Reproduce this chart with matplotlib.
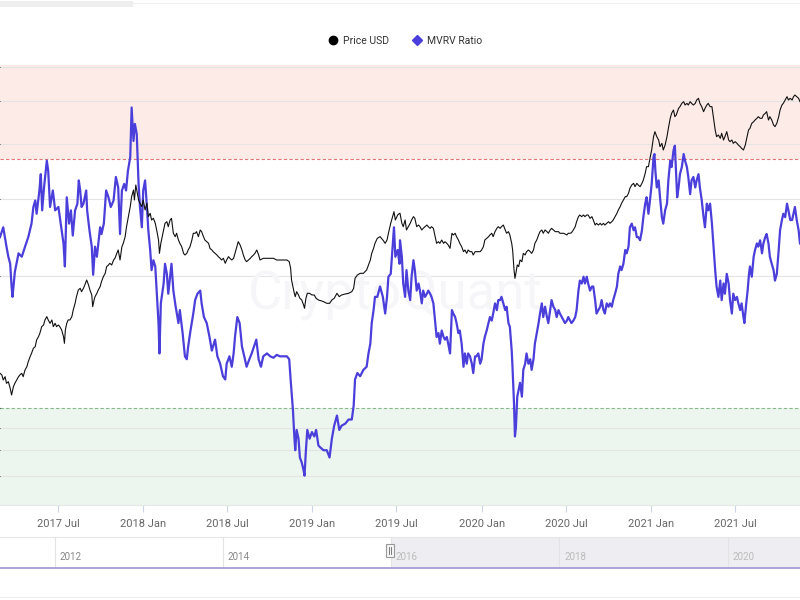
import matplotlib
matplotlib.use("Agg")
import matplotlib.pyplot as plt
from matplotlib.lines import Line2D
from matplotlib.patches import Rectangle
import pandas as pd

plt.rcParams['font.family'] = ['Roboto', 'DejaVu Sans']

# days counted from 2017-02-26 (left edge of the visible window)
start = pd.Timestamp('2017-02-26')
end_day = 1726

mvrv_day = [
    0, 7, 14, 18, 22, 25, 27, 32, 40, 47,
    54, 61, 68, 72, 76, 79, 85, 88, 91, 95,
    101, 104, 108, 114, 119, 126, 129, 133, 137, 140,
    144, 149, 153, 157, 162, 167, 170, 173, 176, 180,
    186, 188, 193, 198, 201, 205, 209, 216, 219, 224,
    229, 234, 239, 245, 250, 255, 259, 263, 268, 272,
    276, 281, 284, 288, 291, 295, 299, 302, 306, 309,
    313, 317, 320, 324, 327, 331, 335, 338, 342, 344,
    347, 353, 356, 360, 363, 367, 370, 374, 379, 385,
    388, 394, 399, 403, 406, 411, 417, 421, 426, 432,
    435, 440, 446, 452, 457, 464, 469, 475, 481, 486,
    489, 495, 500, 504, 507, 512, 517, 522, 527, 532,
    538, 543, 548, 553, 558, 563, 568, 576, 583, 590,
    597, 604, 611, 619, 624, 627, 632, 635, 637, 640,
    644, 647, 651, 655, 657, 660, 663, 668, 673, 678,
    682, 687, 692, 698, 705, 711, 716, 721, 727, 732,
    737, 745, 752, 759, 763, 766, 771, 777, 784, 791,
    795, 799, 802, 806, 809, 814, 820, 826, 831, 835,
    838, 843, 847, 850, 853, 858, 862,
    863, 867, 870, 874, 877, 881, 885, 888, 892, 895,
    899, 903, 906, 910, 913, 917, 921, 924, 928, 931,
    935, 939, 942, 946, 949, 953, 957, 960, 964, 967,
    971, 975, 978, 982, 985, 989, 992, 996, 1000, 1003,
    1007, 1010, 1014, 1018, 1021, 1025, 1028, 1032, 1036, 1039,
    1043, 1046, 1050, 1054, 1057, 1061, 1064, 1068, 1072, 1075,
    1079, 1082, 1086, 1090, 1093, 1097, 1100, 1104, 1106, 1109,
    1111, 1113, 1116, 1119, 1122, 1126, 1129, 1133, 1136, 1140,
    1144, 1147, 1151, 1154, 1158, 1162, 1165, 1169, 1172, 1176,
    1180, 1183, 1187, 1190, 1194, 1198, 1201, 1205, 1208, 1212,
    1216, 1219, 1223, 1226, 1230, 1233, 1237, 1241, 1244, 1248,
    1251, 1255, 1259, 1262, 1266, 1269, 1273, 1277, 1280, 1284,
    1287, 1291, 1295, 1298, 1302, 1305, 1309, 1313, 1316, 1320,
    1323, 1327, 1331, 1334, 1338, 1341, 1345, 1349, 1352, 1356,
    1359, 1363, 1367, 1370, 1374, 1377, 1381, 1385, 1388, 1392,
    1395, 1399, 1403, 1406, 1410, 1412, 1414, 1417, 1421, 1424,
    1428, 1431, 1435, 1439, 1442, 1446, 1449, 1453, 1456, 1459,
    1461, 1464, 1467, 1471, 1475, 1478, 1482, 1485, 1489, 1492,
    1496, 1500, 1503, 1507, 1510, 1514, 1518, 1521, 1525, 1528,
    1532, 1536, 1539, 1543, 1546, 1550, 1554, 1557, 1561, 1564,
    1568, 1572, 1575, 1579, 1582, 1586, 1590, 1593, 1597, 1600,
    1604, 1606, 1610, 1613, 1616, 1618, 1622, 1626, 1629, 1633,
    1636, 1640, 1644, 1647, 1651, 1654, 1658, 1661, 1665, 1669,
    1672, 1676, 1680, 1683, 1687, 1690, 1694, 1698, 1701, 1705,
    1709, 1712, 1715, 1719, 1723, 1726,
]
mvrv = [
    2.45, 2.58, 2.33, 2.21, 2.13, 1.89, 1.79, 2.04, 2.25, 2.21,
    2.33, 2.45, 2.63, 2.87, 2.97, 2.77, 3.13, 3.41, 2.82, 3.18,
    3.66, 3.47, 2.87, 3.13, 2.82, 2.87, 2.72, 2.54, 2.37, 2.10,
    3.02, 2.63, 2.82, 2.47, 2.82, 2.92, 3.30, 3.13, 2.87, 2.92,
    3.13, 2.82, 2.54, 2.33, 2.01, 2.33, 2.21, 2.58, 2.49, 2.63,
    3.13, 3.02, 2.87, 2.97, 3.36, 3.18, 2.49, 3.13, 3.24, 3.13,
    3.47, 3.73, 4.84, 4.06, 4.44, 4.21, 3.24, 2.87, 2.58, 3.13,
    3.30, 2.87, 2.54, 2.29, 2.06, 2.17, 2.10, 1.85, 1.56, 1.33,
    1.73, 1.92, 2.13, 2.02, 1.82, 1.99, 2.13, 1.85, 1.70, 1.56,
    1.67, 1.48, 1.31, 1.29, 1.38, 1.50, 1.64, 1.76, 1.82, 1.85,
    1.73, 1.61, 1.56, 1.45, 1.35, 1.43, 1.31, 1.26, 1.18, 1.16,
    1.26, 1.31, 1.24, 1.33, 1.45, 1.61, 1.56, 1.38, 1.31, 1.24,
    1.29, 1.33, 1.38, 1.43, 1.29, 1.24, 1.31, 1.33, 1.31, 1.30,
    1.32, 1.31, 1.31, 1.31, 1.29, 1.16, 0.99, 0.86, 0.80, 0.89,
    0.85, 0.77, 0.75, 0.72, 0.70, 0.80, 0.89, 0.85, 0.88, 0.86,
    0.89, 0.82, 0.81, 0.80, 0.80, 0.77, 0.85, 0.91, 0.96, 0.89,
    0.91, 0.92, 0.94, 0.94, 1.01, 1.16, 1.20, 1.18, 1.22, 1.24,
    1.33, 1.40, 1.56, 1.67, 1.79, 1.79, 1.89, 1.79, 1.64, 1.79,
    1.99, 2.02, 2.33, 2.58, 2.21, 2.29, 2.13,
    2.41, 2.21, 1.92, 1.79, 2.06, 1.85, 1.76, 1.99, 2.17, 2.06,
    1.85, 1.92, 1.85, 1.73, 1.85, 1.79, 1.82, 1.85, 1.82, 1.79,
    1.73, 1.56, 1.45, 1.48, 1.40, 1.50, 1.45, 1.43, 1.45, 1.40,
    1.33, 1.67, 1.64, 1.61, 1.56, 1.48, 1.50, 1.40, 1.24, 1.33,
    1.26, 1.33, 1.31, 1.26, 1.20, 1.31, 1.31, 1.33, 1.26, 1.29,
    1.40, 1.45, 1.50, 1.56, 1.61, 1.58, 1.64, 1.73, 1.67, 1.76,
    1.76, 1.79, 1.73, 1.67, 1.70, 1.56, 1.53, 1.35, 1.22, 1.02,
    0.86, 0.90, 1.06, 1.10, 1.14, 1.06, 1.22, 1.26, 1.33, 1.26,
    1.29, 1.22, 1.29, 1.40, 1.48, 1.56, 1.64, 1.73, 1.61, 1.70,
    1.61, 1.56, 1.67, 1.76, 1.70, 1.67, 1.61, 1.67, 1.64, 1.61,
    1.58, 1.56, 1.58, 1.61, 1.58, 1.56, 1.58, 1.61, 1.67, 1.85,
    1.95, 1.92, 1.99, 1.92, 1.99, 1.92, 1.85, 1.89, 1.89, 1.76,
    1.64, 1.67, 1.70, 1.76, 1.67, 1.64, 1.73, 1.70, 1.73, 1.70,
    1.76, 1.82, 1.89, 2.02, 2.10, 2.06, 2.13, 2.29, 2.25, 2.33,
    2.58, 2.63, 2.54, 2.58, 2.45, 2.45, 2.41, 2.54, 2.72, 2.92,
    3.02, 2.77, 3.02, 3.24, 3.73, 3.79, 3.47, 3.18, 3.30, 3.02,
    2.72, 2.63, 2.82, 2.92, 3.30, 3.66, 3.54, 3.86, 3.96, 3.36,
    3.02, 3.18, 3.41, 3.54, 3.79, 3.66, 3.54, 3.36, 3.07, 3.30,
    3.36, 3.18, 3.30, 3.41, 3.18, 2.97, 2.72, 2.58, 2.92, 2.82,
    2.92, 2.63, 2.37, 2.06, 1.89, 1.79, 1.95, 1.76, 1.92, 1.82,
    2.02, 1.92, 1.76, 1.64, 1.82, 1.76, 1.79, 1.73, 1.67, 1.73,
    1.61, 1.56, 1.73, 1.85, 2.02, 2.10, 1.99, 2.21, 2.29, 2.37,
    2.33, 2.41, 2.25, 2.37, 2.45, 2.49, 2.37, 2.21, 2.13, 2.06,
    1.95, 2.02, 2.29, 2.54, 2.68, 2.77, 2.72, 2.92, 2.82, 2.68,
    2.68, 2.77, 2.87, 2.68, 2.54, 2.37,
]

price_day = [
    0, 4, 7, 11, 14, 18, 22, 25, 29, 32,
    36, 40, 43, 47, 50, 54, 58, 61, 65, 68,
    72, 76, 79, 83, 86, 90, 94, 97, 101, 104,
    108, 112, 115, 119, 122, 126, 129, 133, 137, 139,
    141, 144, 147, 151, 155, 158, 162, 165, 169, 173,
    176, 180, 183, 187, 191, 194, 198, 200, 203, 205,
    209, 212, 216, 219, 223, 227, 230, 234, 237, 241,
    245, 248, 252, 255, 259, 263, 266, 270, 273, 277,
    281, 284, 288, 290, 293, 295, 299, 302, 306, 309,
    313, 317, 320, 324, 327, 331, 335, 338, 342, 344,
    347, 350, 353, 356, 360, 363, 367, 370, 374, 378,
    381, 385, 388, 392, 396, 399, 403, 406, 410, 414,
    417, 421, 424, 428, 432, 435, 439, 442, 446, 450,
    453, 457, 460, 464, 468, 471, 475, 478, 482, 486,
    489, 493, 496, 500, 504, 507, 511, 514, 518, 522,
    525, 529, 532, 536, 540, 543, 547, 550, 554, 558,
    561, 568, 576, 583, 590, 597, 604, 611, 619, 624,
    627, 629, 632, 635, 637, 640, 644, 647, 651, 655,
    657, 660, 663, 668, 673, 678, 682, 687, 692, 698,
    705, 711, 716, 721, 727, 732, 737, 745, 752, 759,
    763, 766, 771, 777, 784, 791, 795, 799, 802, 806,
    809, 814, 820, 826, 831, 835, 838, 843, 847, 850,
    853, 858, 862,
    863, 867, 870, 874, 877, 881, 885, 888, 892, 895,
    899, 903, 906, 910, 913, 917, 921, 924, 928, 931,
    935, 939, 942, 946, 949, 953, 957, 960, 964, 967,
    971, 975, 978, 982, 985, 989, 992, 996, 1000, 1003,
    1007, 1010, 1014, 1018, 1021, 1025, 1028, 1032, 1036, 1039,
    1043, 1046, 1050, 1054, 1057, 1061, 1064, 1068, 1072, 1075,
    1079, 1082, 1086, 1090, 1093, 1097, 1100, 1104, 1106, 1109,
    1111, 1113, 1116, 1119, 1122, 1126, 1129, 1133, 1136, 1140,
    1144, 1147, 1151, 1154, 1158, 1162, 1165, 1169, 1172, 1176,
    1180, 1183, 1187, 1190, 1194, 1198, 1201, 1205, 1208, 1212,
    1216, 1219, 1223, 1226, 1230, 1233, 1237, 1241, 1244, 1248,
    1251, 1255, 1259, 1262, 1266, 1269, 1273, 1277, 1280, 1284,
    1287, 1291, 1295, 1298, 1302, 1305, 1309, 1313, 1316, 1320,
    1323, 1327, 1331, 1334, 1338, 1341, 1345, 1349, 1352, 1356,
    1359, 1363, 1367, 1370, 1374, 1377, 1381, 1385, 1388, 1392,
    1395, 1399, 1403, 1406, 1410, 1413, 1417, 1421, 1424, 1428,
    1431, 1435, 1439, 1442, 1446, 1449, 1453, 1456, 1459, 1464,
    1467, 1471, 1475, 1478, 1482, 1485, 1489, 1492, 1496, 1500,
    1503, 1507, 1510, 1514, 1518, 1521, 1525, 1528, 1532, 1536,
    1539, 1543, 1546, 1550, 1554, 1557, 1561, 1564, 1568, 1572,
    1575, 1579, 1582, 1586, 1590, 1593, 1597, 1600, 1604, 1608,
    1611, 1615, 1618, 1622, 1626, 1629, 1633, 1636, 1640, 1644,
    1647, 1651, 1654, 1658, 1661, 1665, 1669, 1672, 1676, 1680,
    1683, 1687, 1690, 1694, 1698, 1701, 1705, 1709, 1712, 1715,
    1719, 1723, 1726,
]
price = [
    1250, 1221, 1136, 1191, 1083, 1109, 1008, 917, 1033, 1083,
    1136, 1191, 1221, 1250, 1191, 1311, 1375, 1477, 1586, 1663,
    1787, 1830, 2013, 2111, 2215, 2436, 2495, 2681, 2811, 2681,
    2555, 2681, 2436, 2555, 2436, 2495, 2436, 2323, 2111, 1919,
    2323, 2555, 2681, 2681, 2811, 3092, 3401, 3741, 4115, 4215,
    4018, 4215, 4421, 4748, 4421, 4115, 3831, 3243, 3566, 3741,
    3923, 4115, 4316, 4637, 4981, 5222, 5744, 5885, 6026, 5885,
    6319, 6473, 6953, 7294, 6319, 7649, 8022, 8824, 10180, 11746,
    13552, 15636, 17196, 14906, 18475, 17196, 14906, 14212, 13552, 14906,
    12922, 14212, 11746, 12320, 11200, 11469, 10678, 9707, 8414, 6953,
    8022, 8824, 9707, 10678, 10934, 10180, 11200, 11469, 9256, 8824,
    9256, 8414, 8022, 7649, 6953, 6788, 6953, 7294, 7649, 8414,
    9256, 9256, 9478, 8824, 9707, 9478, 8824, 8414, 8214, 8022,
    7469, 7294, 7120, 6953, 6788, 6628, 6473, 6319, 6473, 6026,
    6319, 6628, 6473, 6319, 6473, 6953, 7649, 8214, 7833, 7294,
    6788, 6319, 6171, 6319, 6473, 6628, 6788, 6953, 7294, 6788,
    6319, 6473, 6473, 6473, 6473, 6319, 6319, 6319, 6319, 6171,
    5610, 4748, 4316, 3923, 3741, 4018, 3831, 3652, 3566, 3321,
    3167, 3652, 3923, 3923, 3831, 3831, 3652, 3566, 3533, 3483,
    3401, 3401, 3566, 3652, 3923, 3741, 3831, 3886, 3923, 4018,
    4215, 4863, 5100, 5222, 5222, 5477, 5885, 6319, 6953, 7469,
    8022, 8614, 8824, 8414, 8022, 8414, 9256, 10678, 11746, 12618,
    11200, 12030, 12320,
    12320, 10680, 10180, 11200, 9710, 10180, 10680, 11200, 11750, 11470,
    10180, 10420, 10180, 9710, 9940, 10180, 10420, 10180, 9940, 10180,
    9940, 8820, 8020, 8210, 8020, 8410, 8020, 8210, 8020, 7830,
    7470, 9260, 9040, 9260, 8820, 8410, 8020, 7650, 7120, 7290,
    6950, 7290, 7120, 7120, 6790, 7120, 7120, 7120, 7120, 7290,
    7650, 8410, 8610, 8820, 9040, 9260, 8820, 9480, 9940, 10180,
    9940, 10180, 10420, 9710, 9260, 9480, 9040, 8020, 7290, 5480,
    4860, 5220, 5890, 5750, 6320, 6170, 6950, 6790, 7120, 7290,
    7120, 6950, 7290, 8020, 8410, 9040, 9480, 9710, 9260, 9710,
    9480, 9260, 9710, 9940, 9710, 9480, 9480, 9480, 9260, 9260,
    9260, 9170, 9040, 9260, 9260, 9340, 9710, 10180, 10930, 11750,
    12030, 11750, 12030, 11750, 12030, 12030, 11470, 11750, 11200, 10420,
    10680, 10420, 10680, 10420, 10680, 10420, 10680, 10930, 10680, 10930,
    11200, 11750, 12320, 12920, 13550, 14210, 14910, 15640, 15640, 16400,
    17610, 18480, 18920, 18040, 18920, 18480, 18040, 18920, 19840, 21830,
    24010, 24010, 27710, 30480, 36890, 39620, 36890, 35170, 31970, 33530,
    30480, 32730, 36890, 41550, 47940, 51480, 54000, 49090, 50280, 55290,
    56630, 59400, 60840, 58000, 59400, 58000, 60840, 59400, 58000, 59400,
    62300, 63810, 59400, 56630, 52730, 55290, 58000, 59400, 56630, 56630,
    49090, 40580, 36890, 37770, 36010, 38690, 35170, 36890, 39620, 35170,
    34340, 35170, 33530, 34340, 33530, 32730, 31970, 31210, 30480, 32730,
    36010, 40580, 41550, 44630, 45710, 46810, 47940, 49090, 47940, 47940,
    50280, 51480, 52730, 46810, 49090, 46810, 43580, 42560, 44630, 49090,
    54000, 58000, 59400, 62300, 65350, 62300, 63810, 62300, 65350, 66930,
    65350, 63810, 60840,
]

x_ticks = ['2017-07-01', '2018-01-01', '2018-07-01', '2019-01-01', '2019-07-01',
           '2020-01-01', '2020-07-01', '2021-01-01', '2021-07-01']
x_labels = ['2017 Jul', '2018 Jan', '2018 Jul', '2019 Jan', '2019 Jul',
            '2020 Jan', '2020 Jul', '2021 Jan', '2021 Jul']
mvrv_grid = [0.7, 0.8, 0.9, 2, 3, 4, 5, 6]
nav_years = ['2012', '2014', '2016', '2018', '2020']

mvrv_dates = start + pd.to_timedelta(mvrv_day, unit='D')
price_dates = start + pd.to_timedelta(price_day, unit='D')

fig = plt.figure(figsize=(8, 6), dpi=100)

# main chart
ax = fig.add_axes([0, 95 / 600, 1, 440 / 600])
ax.set_yscale('log')
ax.set_ylim(0.6, 6.05)
ax.set_xlim(start, start + pd.Timedelta(days=end_day))
ax.axhspan(3.7, 6.05, color='#fdebe8', lw=0, zorder=0)
ax.axhspan(0.6, 1.0, color='#edf5ef', lw=0, zorder=0)
for g in mvrv_grid:
    ax.axhline(g, color='#e4e4e4', lw=0.8, zorder=1)
ax.axhline(3.7, color='#e57373', lw=0.8, ls=(0, (3, 2)), zorder=1)
ax.axhline(1.0, color='#86b98a', lw=0.8, ls=(0, (3, 2)), zorder=1)
ax.text(0.494, 0.477, 'CryptoQuant', transform=ax.transAxes, fontsize=38,
        color='#f6f6f9', ha='center', va='center', zorder=1)
ax.plot(mvrv_dates, mvrv, color='#4b3fdb', lw=1.6, zorder=3)
ax.set_xticks(pd.to_datetime(x_ticks))
ax.set_xticklabels(x_labels)
ax.tick_params(axis='x', length=5, width=0.8, color='#ccd6eb', pad=5,
               labelsize=8, labelcolor='#666666')
ax.tick_params(axis='y', which='both', left=False, labelleft=False)
for s in ['top', 'left', 'right']:
    ax.spines[s].set_visible(False)
ax.spines['bottom'].set_color('#e6e6e6')

ax2 = ax.twinx()
ax2.set_yscale('log')
ax2.set_ylim(190, 102800)
ax2.plot(price_dates, price, color='#111111', lw=0.8, zorder=4)
ax2.tick_params(axis='y', which='both', right=False, labelright=False)
for s in ax2.spines.values():
    s.set_visible(False)

# legend
handles = [Line2D([], [], marker='o', ls='none', color='black', markersize=6),
           Line2D([], [], marker='D', ls='none', color='#4b3fdb', markersize=5)]
fig.legend(handles, ['Price USD', 'MVRV Ratio'], loc='center',
           bbox_to_anchor=(0.503, 1 - 41 / 600), ncol=2, frameon=False,
           fontsize=7.5, handletextpad=0.0, columnspacing=1.6, labelcolor='#333333')

# navigator strip
nav = fig.add_axes([0, 32 / 600, 1, 31 / 600])
nav_start = pd.Timestamp('2011-05-07')
nav_end = pd.Timestamp('2020-11-11')
nav.set_xlim(nav_start, nav_end)
nav.set_ylim(0, 1)
nav.axvspan(pd.Timestamp('2016-01-01'), nav_end, color='#ededf2', lw=0)
for i, yr in enumerate(nav_years):
    d = pd.Timestamp(yr + '-01-01')
    nav.axvline(d, color='#e3e3e3', lw=0.8)
    nav.text(d + pd.Timedelta(days=20), 0.18, yr, fontsize=7,
             color='#888888' if i < 2 else '#bbbbbb', va='bottom')
nav.set_xticks([])
nav.set_yticks([])
nav.spines['top'].set_color('#e6e6e6')
nav.spines['left'].set_visible(False)
nav.spines['right'].set_visible(False)
nav.spines['bottom'].set_color('#9d97d6')
nav.spines['bottom'].set_linewidth(1.2)

# navigator handle
fig.patches.append(Rectangle((386 / 800, 43 / 600), 8 / 800, 13 / 600,
                             transform=fig.transFigure, fc='#f4f4f4', ec='#999999', lw=0.8))
for hx in (389 / 800, 391 / 800):
    fig.lines.append(Line2D([hx, hx], [46 / 600, 53 / 600], transform=fig.transFigure,
                            color='#666666', lw=0.6))

# page decorations
fig.patches.append(Rectangle((0, 593 / 600), 133 / 800, 6 / 600,
                             transform=fig.transFigure, fc='#eeeeee', ec='none'))
fig.lines.append(Line2D([0, 1], [597 / 600, 597 / 600], transform=fig.transFigure,
                        color='#f0f0f0', lw=0.8))
fig.lines.append(Line2D([0, 1], [3 / 600, 3 / 600], transform=fig.transFigure,
                        color='#eeeeee', lw=0.8))

fig.savefig('out.png', dpi=100)
